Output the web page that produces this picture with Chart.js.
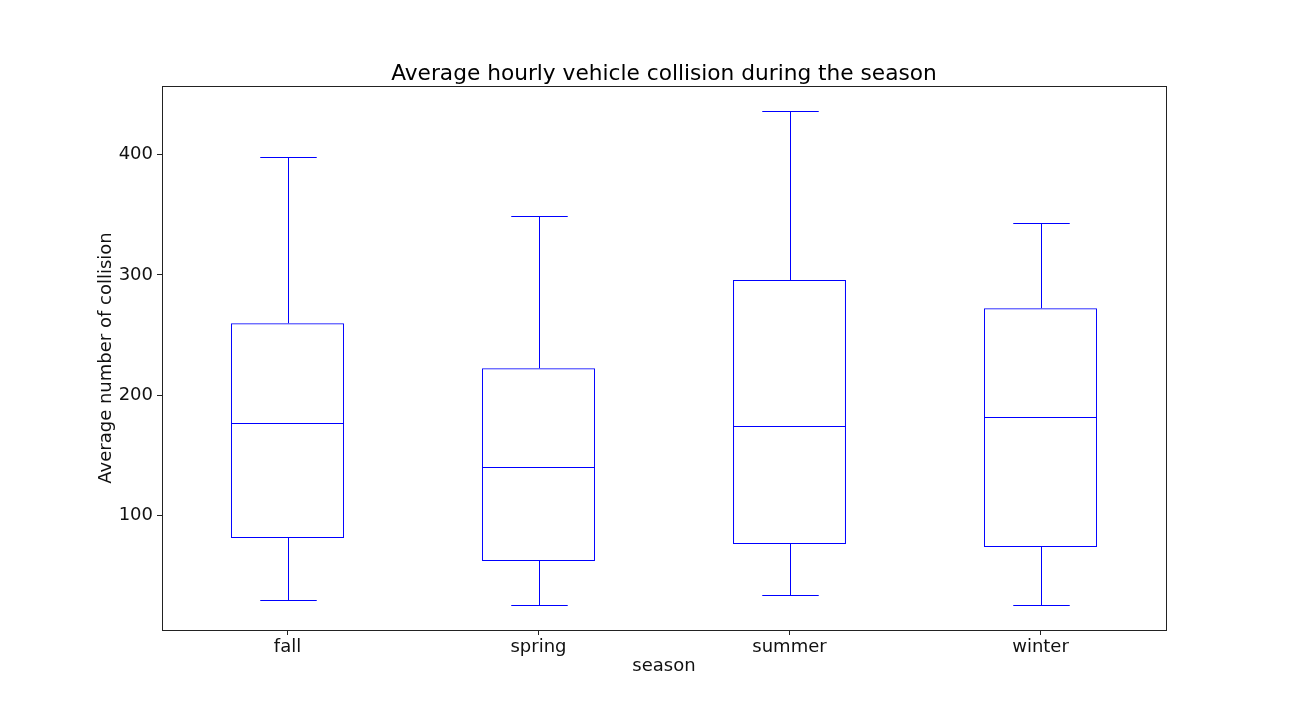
<!DOCTYPE html>
<html>
<head>
<meta charset="utf-8">
<script src="https://cdn.jsdelivr.net/npm/chart.js@4/dist/chart.umd.min.js"></script>
<style>
  html, body { margin: 0; padding: 0; background: #fff; }
  #wrap { width: 1296px; height: 720px; }
</style>
</head>
<body>
<div id="wrap"><canvas id="chart" width="1296" height="720"></canvas></div>
<script>
// box plot values
const seasons = ['fall', 'spring', 'summer', 'winter'];
const whiskerLow = [29.4, 25, 33.4, 25];
const q1 = [81, 61.9, 76.1, 73.5];
const median = [176.7, 140.1, 174.2, 181.6];
const q3 = [259.8, 222.3, 295.8, 272.3];
const whiskerHigh = [398.2, 349, 436.4, 343];
const yTicks = [100, 200, 300, 400];
const chartTitle = 'Average hourly vehicle collision during the season';

const BLUE = '#0000ff';
const FONT = 'DejaVu Sans';
const TEXT = '#111';

// whiskers, caps, medians, frame and the title centred over the plot area
const boxExtras = {
  id: 'boxExtras',
  afterDatasetsDraw(chart) {
    const ctx = chart.ctx;
    const y = chart.scales.y;
    const meta = chart.getDatasetMeta(0);
    ctx.save();
    ctx.strokeStyle = BLUE;
    ctx.lineWidth = 1;
    const line = (x1, y1, x2, y2) => {
      ctx.beginPath();
      ctx.moveTo(x1, y1);
      ctx.lineTo(x2, y2);
      ctx.stroke();
    };
    meta.data.forEach((bar, i) => {
      const cx = Math.round(bar.x) + 0.5;
      const half = bar.width / 2;
      const cap = bar.width / 4;
      const pLow = Math.round(y.getPixelForValue(whiskerLow[i])) + 0.5;
      const pHigh = Math.round(y.getPixelForValue(whiskerHigh[i])) + 0.5;
      const pQ1 = y.getPixelForValue(q1[i]);
      const pQ3 = y.getPixelForValue(q3[i]);
      const pMed = Math.round(y.getPixelForValue(median[i])) + 0.5;
      line(cx, pQ3, cx, pHigh);
      line(cx, pQ1, cx, pLow);
      line(cx - cap, pHigh, cx + cap, pHigh);
      line(cx - cap, pLow, cx + cap, pLow);
      line(bar.x - half, pMed, bar.x + half, pMed);
    });
    const a = chart.chartArea;
    ctx.strokeStyle = '#222';
    ctx.strokeRect(Math.round(a.left) + 0.5, Math.round(a.top) + 0.5,
      Math.round(a.right - a.left), Math.round(a.bottom - a.top));
    ctx.fillStyle = '#000';
    ctx.font = '21.7px "' + FONT + '"';
    ctx.textAlign = 'center';
    ctx.textBaseline = 'alphabetic';
    ctx.fillText(chartTitle, (a.left + a.right) / 2, a.top - 6);
    ctx.restore();
  }
};

Chart.defaults.font.family = FONT;
Chart.defaults.color = TEXT;

new Chart(document.getElementById('chart'), {
  type: 'bar',
  data: {
    labels: seasons,
    datasets: [{
      label: 'collision',
      data: seasons.map((s, i) => [q1[i], q3[i]]),
      backgroundColor: 'rgba(0,0,0,0)',
      borderColor: BLUE,
      borderWidth: 1,
      borderSkipped: false,
      categoryPercentage: 1,
      barPercentage: 0.45
    }]
  },
  options: {
    responsive: false,
    animation: false,
    devicePixelRatio: 1,
    layout: { padding: { left: 96, right: 130, top: 86, bottom: 43 } },
    plugins: {
      legend: { display: false },
      tooltip: { enabled: false },
      title: { display: false }
    },
    scales: {
      x: {
        grid: { display: true, drawOnChartArea: false, offset: false, tickLength: 5, color: '#222' },
        border: { display: false },
        ticks: { font: { size: 18 }, color: TEXT, padding: 2 },
        title: { display: true, text: 'season', font: { size: 18 }, color: TEXT, padding: { top: 2, bottom: 0 } },
        afterFit(scale) { scale.height = 47; }
      },
      y: {
        min: 4.4,
        max: 457.3,
        grid: { display: true, drawOnChartArea: false, tickLength: 5, color: '#222' },
        border: { display: false },
        ticks: { font: { size: 18 }, color: TEXT, padding: 4 },
        afterBuildTicks(scale) { scale.ticks = yTicks.map(v => ({ value: v })); },
        title: { display: true, text: 'Average number of collision', font: { size: 18 }, color: TEXT, padding: { top: 0, bottom: 0 } },
        afterFit(scale) { scale.width = 66; }
      }
    }
  },
  plugins: [boxExtras]
});
</script>
</body>
</html>
